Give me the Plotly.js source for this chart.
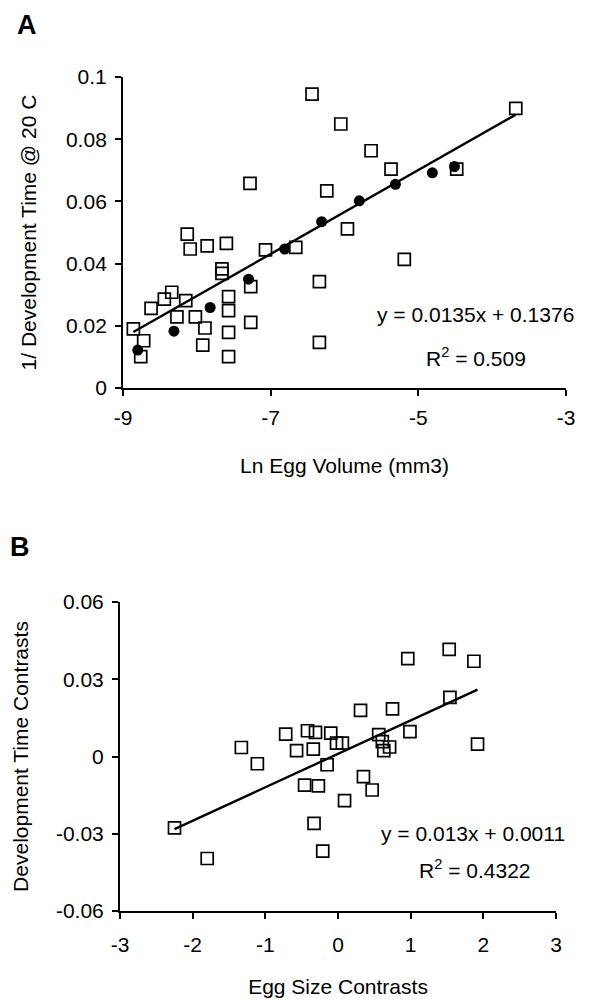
<!DOCTYPE html>
<html>
<head>
<meta charset="utf-8">
<script src="https://cdn.plot.ly/plotly-3.0.1.min.js"></script>
<style>html,body{margin:0;padding:0;background:#fff;}#chart{width:590px;height:1004px;}</style>
</head>
<body>
<div id="chart"></div>
<script>
// Panel A: open squares
var aSquareX = [-6.44,-6.05,-7.28,-6.24,-5.64,-5.37,-3.68,-4.48,-5.96,-5.19,-8.13,-8.09,-7.86,-7.60,-7.07,-6.66,-7.66,-7.66,-7.27,-6.34,-8.34,-8.44,-8.15,-8.62,-7.57,-7.57,-8.27,-8.02,-7.89,-8.86,-7.57,-7.27,-8.72,-8.76,-7.92,-7.57,-6.34];
var aSquareY = [0.0945,0.0849,0.0658,0.0634,0.0763,0.0704,0.0899,0.0704,0.0512,0.0414,0.0495,0.0447,0.0457,0.0465,0.0444,0.0452,0.0383,0.0369,0.0326,0.0342,0.0308,0.0286,0.0281,0.0256,0.0294,0.0249,0.0229,0.0229,0.0193,0.0190,0.0179,0.0211,0.0152,0.0101,0.0138,0.0101,0.0147];
// Panel A: filled circles
var aDotX = [-8.80,-8.31,-7.82,-7.30,-6.81,-6.31,-5.80,-5.31,-4.81,-4.51];
var aDotY = [0.0122,0.0183,0.0259,0.0350,0.0447,0.0535,0.0602,0.0655,0.0692,0.0712];
// Panel A: fitted line end points
var aLineX = [-8.86,-3.68];
var aLineY = [0.0180,0.0879];
var aEquation = "y = 0.0135x + 0.1376";
var aR2 = "R<sup>2</sup> = 0.509";

// Panel B: open squares
var bSquareX = [-2.25,-1.80,-1.33,-1.11,-0.72,-0.57,-0.42,-0.31,-0.34,-0.10,-0.02,0.06,-0.15,-0.46,-0.27,0.09,-0.33,-0.21,0.31,0.75,0.96,1.53,1.87,1.54,0.99,0.56,0.61,0.71,0.63,1.92,0.35,0.47];
var bSquareY = [-0.0277,-0.0396,0.0035,-0.0028,0.0087,0.0023,0.0100,0.0094,0.0029,0.0091,0.0052,0.0052,-0.0032,-0.0111,-0.0114,-0.0171,-0.0260,-0.0367,0.0179,0.0185,0.0380,0.0416,0.0370,0.0230,0.0097,0.0085,0.0058,0.0037,0.0023,0.0048,-0.0078,-0.0130];
var bLineX = [-2.25,1.92];
var bLineY = [-0.0282,0.0260];
var bEquation = "y = 0.013x + 0.0011";
var bR2 = "R<sup>2</sup> = 0.4322";

// Tick labels
var aXTicks = [-9,-7,-5,-3];
var aXTickText = ["-9","-7","-5","-3"];
var aYTicks = [0,0.02,0.04,0.06,0.08,0.1];
var aYTickText = ["0","0.02","0.04","0.06","0.08","0.1"];
var bXTicks = [-3,-2,-1,0,1,2,3];
var bXTickText = ["-3","-2","-1","0","1","2","3"];
var bYTicks = [-0.06,-0.03,0,0.03,0.06];
var bYTickText = ["-0.06","-0.03","0","0.03","0.06"];

var FONT = "Liberation Sans, Arial, Helvetica, sans-serif";
var FS = 21;
var sqMarker = {symbol:"square-open", size:12, color:"#000", line:{color:"#000", width:1.7}};

var traces = [
  {x:aLineX, y:aLineY, xaxis:"x", yaxis:"y", mode:"lines", line:{color:"#000", width:2.4}, showlegend:false, hoverinfo:"skip"},
  {x:aSquareX, y:aSquareY, xaxis:"x", yaxis:"y", mode:"markers", marker:sqMarker, showlegend:false},
  {x:aDotX, y:aDotY, xaxis:"x", yaxis:"y", mode:"markers", marker:{symbol:"circle", size:11, color:"#000"}, showlegend:false},
  {x:bLineX, y:bLineY, xaxis:"x2", yaxis:"y2", mode:"lines", line:{color:"#000", width:2.4}, showlegend:false, hoverinfo:"skip"},
  {x:bSquareX, y:bSquareY, xaxis:"x2", yaxis:"y2", mode:"markers", marker:sqMarker, showlegend:false}
];

function axisBase(){
  return {showline:true, linecolor:"#000", linewidth:2, showgrid:false, zeroline:false,
          ticks:"outside", ticklen:6, tickwidth:2, tickcolor:"#000",
          tickfont:{family:FONT, size:FS, color:"#000"}, fixedrange:true};
}

var xa = axisBase(); Object.assign(xa, {domain:[0.2085,0.9593], range:[-9,-3], anchor:"y", tickmode:"array", tickvals:aXTicks, ticktext:aXTickText,
  ticklabelstandoff:4,
  title:{text:"Ln Egg Volume (mm3)", font:{family:FONT, size:FS, color:"#000"}, standoff:30}});
var ya = axisBase(); Object.assign(ya, {domain:[0.6135,0.9233], range:[0,0.1], anchor:"x", tickmode:"array", tickvals:aYTicks, ticktext:aYTickText,
  ticklabelstandoff:4,
  title:{text:"1/ Development Time @ 20 C", font:{family:FONT, size:FS, color:"#000"}, standoff:24}});
var xb = axisBase(); Object.assign(xb, {domain:[0.2034,0.9424], range:[-3,3], anchor:"y2", tickmode:"array", tickvals:bXTicks, ticktext:bXTickText,
  ticklabelstandoff:8,
  title:{text:"Egg Size Contrasts", font:{family:FONT, size:FS, color:"#000"}, standoff:24}});
var yb = axisBase(); Object.assign(yb, {domain:[0.0926,0.4004], range:[-0.06,0.06], anchor:"x2", tickmode:"array", tickvals:bYTicks, ticktext:bYTickText,
  ticklabelstandoff:4,
  title:{text:"Development Time Contrasts", font:{family:FONT, size:FS, color:"#000"}, standoff:22}});

var layout = {
  width:590, height:1004, margin:{l:0, r:0, t:0, b:0},
  paper_bgcolor:"#fff", plot_bgcolor:"#fff",
  font:{family:FONT, size:FS, color:"#000"},
  showlegend:false,
  xaxis:xa, yaxis:ya, xaxis2:xb, yaxis2:yb,
  annotations:[
    {text:"<b>A</b>", xref:"paper", yref:"paper", x:27/590, y:1-25/1004, xanchor:"center", yanchor:"middle", showarrow:false, font:{family:FONT, size:27, color:"#000"}},
    {text:"<b>B</b>", xref:"paper", yref:"paper", x:20/590, y:1-547/1004, xanchor:"center", yanchor:"middle", showarrow:false, font:{family:FONT, size:27, color:"#000"}},
    {text:aEquation, xref:"x", yref:"y", x:-4.22, y:0.0235, xanchor:"center", yanchor:"middle", showarrow:false, font:{family:FONT, size:FS, color:"#000"}},
    {text:aR2, xref:"x", yref:"y", x:-4.22, y:0.0101, xanchor:"center", yanchor:"middle", showarrow:false, font:{family:FONT, size:FS, color:"#000"}},
    {text:bEquation, xref:"x2", yref:"y2", x:1.86, y:-0.0298, xanchor:"center", yanchor:"middle", showarrow:false, font:{family:FONT, size:FS, color:"#000"}},
    {text:bR2, xref:"x2", yref:"y2", x:1.88, y:-0.0435, xanchor:"center", yanchor:"middle", showarrow:false, font:{family:FONT, size:FS, color:"#000"}}
  ]
};

Plotly.newPlot("chart", traces, layout, {displayModeBar:false, staticPlot:true});
</script>
</body>
</html>
